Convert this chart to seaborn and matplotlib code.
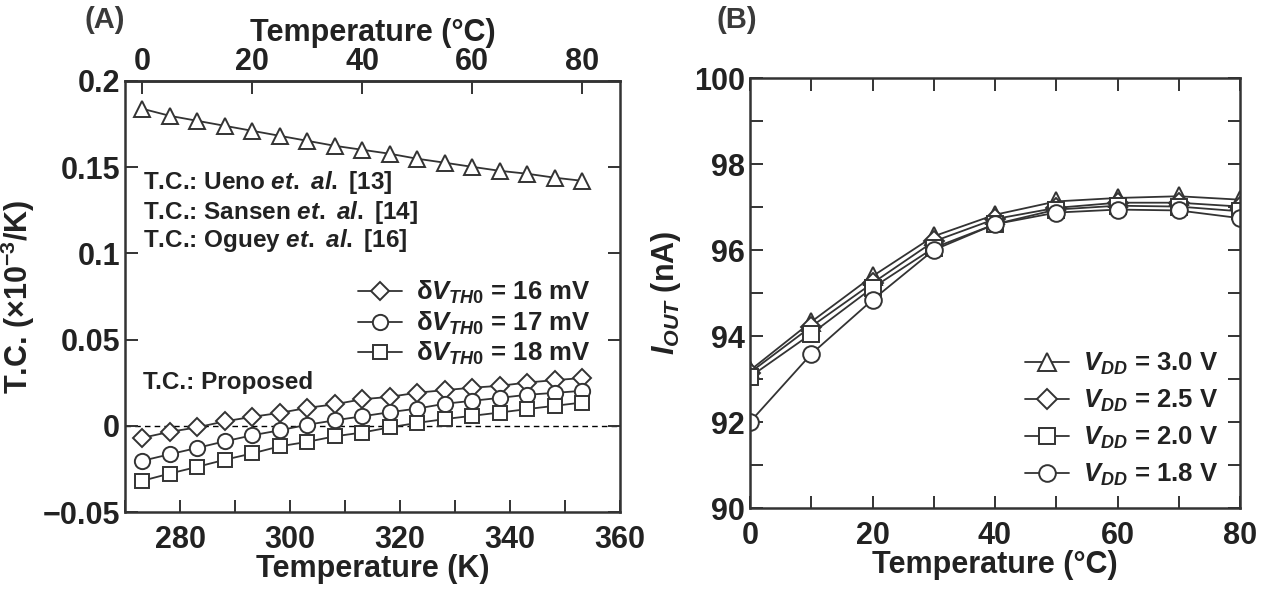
import matplotlib
matplotlib.use("Agg")
import matplotlib.pyplot as plt
import seaborn as sns
import pandas as pd
from matplotlib import font_manager as fm
from matplotlib.ticker import FixedLocator, NullFormatter

# ---------------- data ----------------
temp_K = [273.15, 278.15, 283.15, 288.15, 293.15, 298.15, 303.15, 308.15, 313.15,
          318.15, 323.15, 328.15, 333.15, 338.15, 343.15, 348.15, 353.15]
tc_ueno = [0.1839, 0.1798, 0.1769, 0.1740, 0.1711, 0.1682, 0.1653, 0.1624, 0.1601,
           0.1578, 0.1549, 0.1526, 0.1502, 0.1479, 0.1462, 0.1439, 0.1421]
tc_16mV = [-0.0070, -0.0035, -0.0009, 0.0026, 0.0052, 0.0075, 0.0104, 0.0125, 0.0154,
           0.0168, 0.0192, 0.0207, 0.0221, 0.0232, 0.0251, 0.0265, 0.0277]
tc_17mV = [-0.0203, -0.0165, -0.0128, -0.0090, -0.0055, -0.0026, 0.0006, 0.0032, 0.0055,
           0.0079, 0.0100, 0.0128, 0.0145, 0.0162, 0.0180, 0.0191, 0.0203]
tc_18mV = [-0.0319, -0.0277, -0.0238, -0.0197, -0.0160, -0.0119, -0.0093, -0.0061, -0.0039,
           -0.0009, 0.0017, 0.0039, 0.0058, 0.0077, 0.0097, 0.0116, 0.0135]

temp_C = [0, 10, 20, 30, 40, 50, 60, 70, 80]
iout_30 = [93.20, 94.33, 95.39, 96.32, 96.82, 97.13, 97.21, 97.25, 97.17]
iout_25 = [93.15, 94.22, 95.23, 96.20, 96.72, 96.98, 97.10, 97.10, 97.01]
iout_20 = [93.05, 94.05, 95.12, 96.05, 96.60, 96.94, 97.03, 97.01, 96.90]
iout_18 = [92.00, 93.58, 94.84, 96.00, 96.60, 96.87, 96.94, 96.92, 96.74]

left_yticks = [-0.05, 0, 0.05, 0.1, 0.15, 0.2]
left_yticklabels = ["\u22120.05", "0", "0.05", "0.1", "0.15", "0.2"]
left_xticks = [280, 300, 320, 340, 360]
top_ticks_C = [0, 20, 40, 60, 80]
right_xticks = [0, 20, 40, 60, 80]
right_yticks = [90, 92, 94, 96, 98, 100]

# ---------------- style ----------------
sns.set_style("ticks")


def pick(names):
    for n in names:
        try:
            fm.findfont(fm.FontProperties(family=n), fallback_to_default=False)
            return n
        except Exception:
            pass
    return "DejaVu Sans"


REG = pick(["Liberation Sans", "DejaVu Sans"])
plt.rcParams["font.family"] = [REG, "DejaVu Sans"]
plt.rcParams["font.weight"] = "bold"
plt.rcParams["axes.labelweight"] = "bold"
plt.rcParams["mathtext.fontset"] = "custom"
plt.rcParams["mathtext.rm"] = f"{REG}:bold"
plt.rcParams["mathtext.it"] = f"{REG}:italic:bold"
plt.rcParams["mathtext.bf"] = f"{REG}:bold"
plt.rcParams["axes.unicode_minus"] = True

INK = "#222222"
LINE = "#333333"
TICK_FS = 22
LAB_FS = 22

fig = plt.figure(figsize=(12.65, 5.89), dpi=100)
axA = fig.add_axes([125 / 1265, 1 - 512 / 589, 495 / 1265, 431 / 589])
axB = fig.add_axes([750 / 1265, 1 - 508 / 589, 490 / 1265, 430 / 589])

mk = dict(markerfacecolor="white", markeredgecolor=LINE, markeredgewidth=1.4,
          color=LINE, linewidth=1.3)

# ---------------- panel A ----------------
sns.lineplot(x=temp_K, y=tc_ueno, ax=axA, marker="^", markersize=12, **mk)
sns.lineplot(x=temp_K, y=tc_16mV, ax=axA, marker="D", markersize=9.5, **mk)
sns.lineplot(x=temp_K, y=tc_17mV, ax=axA, marker="o", markersize=11, **mk)
sns.lineplot(x=temp_K, y=tc_18mV, ax=axA, marker="s", markersize=10, **mk)
axA.axhline(0, color="black", linestyle=(0, (4, 3)), linewidth=1.0, zorder=0)

axA.set_xlim(270, 360)
axA.set_ylim(-0.05, 0.2)
axA.set_yticks(left_yticks)
axA.set_yticklabels(left_yticklabels)
axA.set_xticks(left_xticks)
axA.xaxis.set_minor_locator(FixedLocator([270, 290, 310, 330, 350]))
axA.xaxis.set_minor_formatter(NullFormatter())
axA.tick_params(axis="both", which="both", direction="in", length=9, width=1.4,
                color=LINE, labelsize=TICK_FS, labelcolor=INK)
axA.tick_params(axis="y", right=True)
axA.tick_params(axis="x", pad=9)
axA.set_xlabel("Temperature (K)", fontsize=LAB_FS, color=INK, labelpad=0)
axA.set_ylabel("T.C. (\u00d710$^{-3}$/K)", fontsize=LAB_FS, color=INK, labelpad=4)

secA = axA.secondary_xaxis("top", functions=(lambda k: k - 273.15, lambda c: c + 273.15))
secA.set_xticks(top_ticks_C)
secA.tick_params(direction="in", length=9, width=1.4, color=LINE,
                 labelsize=TICK_FS, labelcolor=INK, pad=3)
secA.set_xlabel("Temperature (\u00b0C)", fontsize=LAB_FS, color=INK, labelpad=4,
                fontweight="bold")

ann_fs = 17.5
ann = [("T.C.: Ueno $et.\\ al.$ [13]", 183), ("T.C.: Sansen $et.\\ al.$ [14]", 213),
       ("T.C.: Oguey $et.\\ al.$ [16]", 241), ("T.C.: Proposed", 383)]
for txt, ypix in ann:
    axA.text(143 / 1265, 1 - ypix / 589, txt, transform=fig.transFigure,
             fontsize=ann_fs, color=INK, fontweight="bold", va="center", ha="left")

linesA = axA.get_lines()
legA = axA.legend([linesA[1], linesA[2], linesA[3]],
                  ["$\\mathrm{\\delta}V_{TH0}$ = 16 mV", "$\\mathrm{\\delta}V_{TH0}$ = 17 mV",
                   "$\\mathrm{\\delta}V_{TH0}$ = 18 mV"],
                  loc="upper right", bbox_to_anchor=(0.94, 0.54), frameon=False,
                  prop=fm.FontProperties(family=REG, weight="bold", size=18.5),
                  handlelength=1.7, handletextpad=0.55, labelspacing=0.12,
                  borderaxespad=0, borderpad=0)
for t in legA.get_texts():
    t.set_color(INK)

# ---------------- panel B ----------------
sns.lineplot(x=temp_C, y=iout_30, ax=axB, marker="^", markersize=13, **mk)
sns.lineplot(x=temp_C, y=iout_25, ax=axB, marker="D", markersize=10, **mk)
sns.lineplot(x=temp_C, y=iout_20, ax=axB, marker="s", markersize=11, **mk)
sns.lineplot(x=temp_C, y=iout_18, ax=axB, marker="o", markersize=12, **mk)

axB.set_xlim(0, 80)
axB.set_ylim(90, 100)
axB.set_xticks(right_xticks)
axB.xaxis.set_minor_locator(FixedLocator([10, 30, 50, 70]))
axB.xaxis.set_minor_formatter(NullFormatter())
axB.set_yticks(right_yticks)
axB.yaxis.set_minor_locator(FixedLocator([91, 93, 95, 97, 99]))
axB.yaxis.set_minor_formatter(NullFormatter())
axB.tick_params(axis="both", which="both", direction="in", length=9, width=1.4,
                color=LINE, labelsize=TICK_FS, labelcolor=INK, top=True, right=True)
axB.tick_params(axis="x", pad=9)
axB.set_xlabel("Temperature (\u00b0C)", fontsize=LAB_FS, color=INK, labelpad=0)
axB.set_ylabel("$I_{OUT}$ (nA)", fontsize=LAB_FS, color=INK, labelpad=8)

linesB = axB.get_lines()
legB = axB.legend(linesB[:4],
                  ["$V_{DD}$ = 3.0 V", "$V_{DD}$ = 2.5 V", "$V_{DD}$ = 2.0 V", "$V_{DD}$ = 1.8 V"],
                  loc="upper right", bbox_to_anchor=(0.955, 0.365), frameon=False,
                  prop=fm.FontProperties(family=REG, weight="bold", size=18.5),
                  handlelength=1.7, handletextpad=0.55, labelspacing=0.42,
                  borderaxespad=0, borderpad=0)
for t in legB.get_texts():
    t.set_color(INK)

for ax in (axA, axB):
    for s in ax.spines.values():
        s.set_visible(True)
        s.set_color(LINE)
        s.set_linewidth(1.8)
secA.spines["top"].set_color(LINE)
secA.spines["top"].set_linewidth(1.8)

fig.text(105 / 1265, 1 - 20 / 589, "(A)", fontsize=21, color="#3a3a3a",
         ha="center", va="center", fontweight="bold")
fig.text(737 / 1265, 1 - 20 / 589, "(B)", fontsize=21, color="#3a3a3a",
         ha="center", va="center", fontweight="bold")

fig.savefig("out.png", dpi=100)
